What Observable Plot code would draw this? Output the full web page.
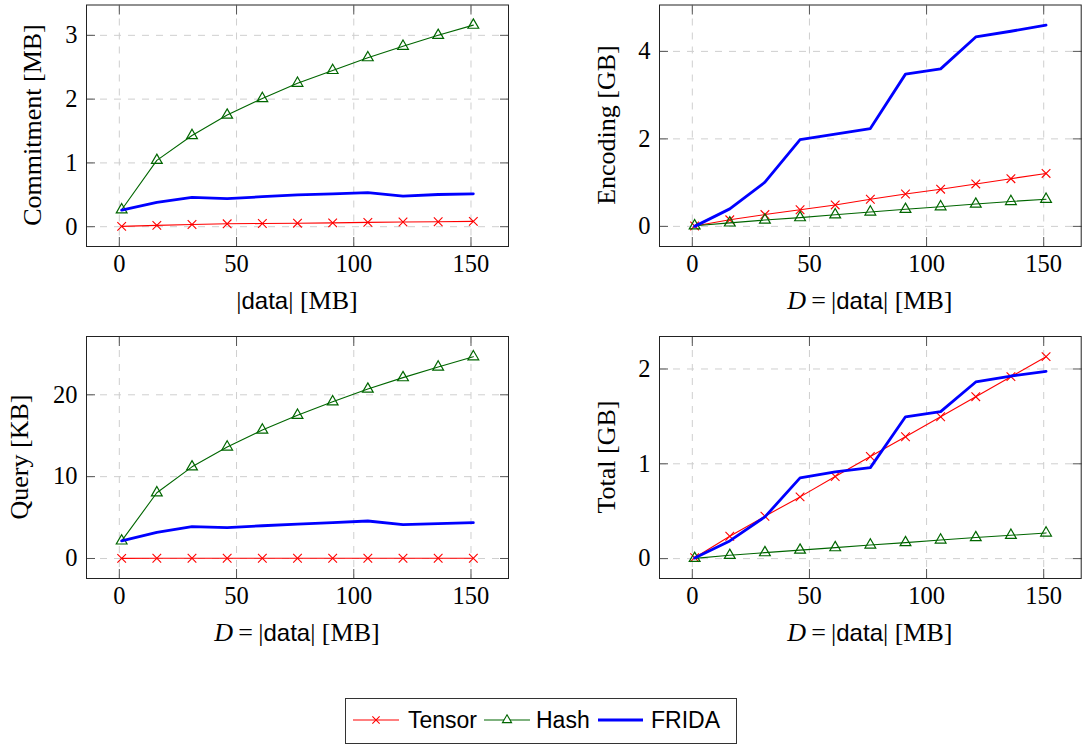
<!DOCTYPE html>
<html><head><meta charset="utf-8">
<script src="https://cdn.jsdelivr.net/npm/d3@7"></script>
<script src="https://cdn.jsdelivr.net/npm/@observablehq/plot@0.6"></script>
<style>
html,body{margin:0;padding:0;background:#fff;}
body{width:1084px;height:745px;position:relative;overflow:hidden;font-family:"Liberation Serif",serif;}
.panel{position:absolute;}
.lab{position:absolute;font-family:"Liberation Serif",serif;font-size:26px;color:#000;white-space:nowrap;line-height:1;}
.sf{font-family:"Liberation Sans",sans-serif;font-size:24px;}
.ylab{transform:translate(-50%,-50%) rotate(-90deg);}
.xlab{transform:translate(-50%,-50%);}
#legend{position:absolute;left:345px;top:698px;width:392px;height:46px;border:1px solid #333;box-sizing:border-box;background:#fff;}
</style></head><body>
<script>
// ---- data ----
const sizes = [1, 16, 31, 46, 61, 76, 91, 106, 121, 136, 151];
const xTicks = [0, 50, 100, 150];

const commitTensor = [0.005, 0.02, 0.035, 0.045, 0.05, 0.055, 0.06, 0.067, 0.073, 0.078, 0.083];
const commitHash   = [0.265, 1.04, 1.43, 1.75, 2.01, 2.25, 2.45, 2.65, 2.83, 3.0, 3.16];
const commitFrida  = [0.26, 0.38, 0.46, 0.44, 0.47, 0.50, 0.515, 0.535, 0.48, 0.505, 0.515];
const commitTicks  = [0, 1, 2, 3];

const encTensor = [0.01, 0.15, 0.27, 0.38, 0.49, 0.62, 0.74, 0.85, 0.97, 1.09, 1.21];
const encHash   = [0.015, 0.08, 0.145, 0.2, 0.265, 0.33, 0.39, 0.45, 0.51, 0.57, 0.62];
const encFrida  = [0.0, 0.40, 1.01, 1.985, 2.11, 2.235, 3.48, 3.6, 4.33, 4.46, 4.6];
const encTicks  = [0, 2, 4];

const queryTensor = [0.02, 0.03, 0.03, 0.03, 0.03, 0.03, 0.03, 0.03, 0.03, 0.03, 0.03];
const queryHash   = [2.15, 8.03, 11.2, 13.63, 15.7, 17.5, 19.15, 20.7, 22.1, 23.4, 24.66];
const queryFrida  = [2.15, 3.2, 3.9, 3.77, 4.0, 4.2, 4.38, 4.58, 4.14, 4.26, 4.38];
const queryTicks  = [0, 10, 20];

const totalTensor = [0.01, 0.236, 0.447, 0.651, 0.866, 1.077, 1.285, 1.496, 1.708, 1.919, 2.13];
const totalHash   = [0.003, 0.035, 0.063, 0.09, 0.116, 0.144, 0.169, 0.197, 0.222, 0.246, 0.271];
const totalFrida  = [0.007, 0.187, 0.44, 0.852, 0.915, 0.96, 1.496, 1.55, 1.863, 1.926, 1.975];
const totalTicks  = [0, 1, 2];

const seriesNames = ["Tensor", "Hash", "FRIDA"];
const seriesColors = ["#ff0000", "#006600", "#0000ff"];

// ---- helpers ----
const rows = s => sizes.map((x, i) => ({x, y: s[i]}));
function enlarge(vals) {
  const lo = d3.min(vals), hi = d3.max(vals), r = hi - lo;
  return [lo - 0.1 * r, hi + 0.1 * r];
}
const xLabPlain = `|<span class="sf">data</span>| [MB]`;
const xLabD = `<i>D</i>&#8201;=&#8201;|<span class="sf">data</span>| [MB]`;

const panels = [
  {left: 0,   top: 0,   w: 540, h: 320, ml: 86, mr: 32, mt: 4.5, mb: 74, series: [commitTensor, commitHash, commitFrida], ticks: commitTicks,
   ylab: "Commitment [MB]", ylx: 33, xlab: xLabPlain},
  {left: 560, top: 0,   w: 524, h: 320, ml: 99, mr: 3.3, mt: 4.5, mb: 74, series: [encTensor, encHash, encFrida], ticks: encTicks,
   ylab: "Encoding [GB]", ylx: 607, xlab: xLabD},
  {left: 0,   top: 320, w: 540, h: 330, ml: 86, mr: 32, mt: 16, mb: 72, series: [queryTensor, queryHash, queryFrida], ticks: queryTicks,
   ylab: "Query [KB]", ylx: 20, xlab: xLabD},
  {left: 560, top: 320, w: 524, h: 330, ml: 99, mr: 3.3, mt: 16, mb: 72, series: [totalTensor, totalHash, totalFrida], ticks: totalTicks,
   ylab: "Total [GB]", ylx: 607, xlab: xLabD}
];

const tickStroke = "#555";
const gridOpts = {stroke: "#cfcfcf", strokeOpacity: 1, strokeWidth: 1, strokeDasharray: "7,7"};

for (const p of panels) {
  const [tensor, hash, frida] = p.series;
  const svg = Plot.plot({
    width: p.w, height: p.h,
    marginLeft: p.ml, marginRight: p.mr, marginTop: p.mt, marginBottom: p.mb,
    x: {domain: enlarge(sizes)},
    y: {domain: enlarge([...tensor, ...hash, ...frida])},
    style: {background: "transparent", fontFamily: "Liberation Serif, serif", fontSize: "24.5px", color: "#000", overflow: "visible"},
    marks: [
      Plot.gridX(xTicks, gridOpts),
      Plot.gridY(p.ticks, gridOpts),
      // inward ticks on all four sides
      Plot.axisX(xTicks, {anchor: "bottom", tickSize: 9, dy: -9, tickFormat: () => "", label: null, stroke: tickStroke}),
      Plot.axisX(xTicks, {anchor: "top", tickSize: 9, dy: 9, tickFormat: () => "", label: null, stroke: tickStroke}),
      Plot.axisY(p.ticks, {anchor: "left", tickSize: 9, dx: 9, tickFormat: () => "", label: null, stroke: tickStroke}),
      Plot.axisY(p.ticks, {anchor: "right", tickSize: 9, dx: -9, tickFormat: () => "", label: null, stroke: tickStroke}),
      // tick labels
      Plot.axisX(xTicks, {anchor: "bottom", tickSize: 0, tickPadding: 8, label: null, fontSize: 24.5, tickFormat: d3.format("d")}),
      Plot.axisY(p.ticks, {anchor: "left", tickSize: 0, tickPadding: 9, label: null, fontSize: 24.5, tickFormat: d3.format("d")}),
      Plot.frame({stroke: "#222", strokeWidth: 1}),
      // series
      Plot.line(rows(tensor), {x: "x", y: "y", stroke: seriesColors[0], strokeWidth: 1.1}),
      Plot.dot(rows(tensor), {x: "x", y: "y", symbol: "times", r: 4, stroke: seriesColors[0], strokeWidth: 1.1}),
      Plot.line(rows(hash), {x: "x", y: "y", stroke: seriesColors[1], strokeWidth: 1.1}),
      Plot.dot(rows(hash), {x: "x", y: "y", symbol: "triangle", r: 4, fill: "none", stroke: seriesColors[1], strokeWidth: 1.2}),
      Plot.line(rows(frida), {x: "x", y: "y", stroke: seriesColors[2], strokeWidth: 2.8})
    ]
  });
  const div = document.createElement("div");
  div.className = "panel";
  div.style.left = p.left + "px";
  div.style.top = p.top + "px";
  div.appendChild(svg);
  document.body.appendChild(div);

  const frameCy = p.top + p.mt + (p.h - p.mt - p.mb) / 2;
  const frameCx = p.left + p.ml + (p.w - p.ml - p.mr) / 2;
  const yl = document.createElement("div");
  yl.className = "lab ylab";
  yl.style.left = p.ylx + "px";
  yl.style.top = frameCy + "px";
  yl.textContent = p.ylab;
  document.body.appendChild(yl);

  const xl = document.createElement("div");
  xl.className = "lab xlab";
  xl.style.left = frameCx + "px";
  xl.style.top = (p.top + p.h - p.mb + 55) + "px";
  xl.innerHTML = p.xlab;
  document.body.appendChild(xl);
}

// ---- legend ----
const legend = document.createElement("div");
legend.id = "legend";
document.body.appendChild(legend);
const lsvg = d3.select(legend).append("svg").attr("width", 390).attr("height", 44)
  .style("position", "absolute").style("left", "0px").style("top", "0px");
const legItems = [
  {x0: 7, x1: 53, tx: 62, sym: d3.symbolTimes},
  {x0: 138, x1: 184, tx: 190, sym: d3.symbolTriangle},
  {x0: 252, x1: 297, tx: 305, sym: null}
];
legItems.forEach((it, i) => {
  const cy = 21;
  lsvg.append("line").attr("x1", it.x0).attr("x2", it.x1).attr("y1", cy).attr("y2", cy)
    .attr("stroke", seriesColors[i]).attr("stroke-width", i === 2 ? 2.8 : 1.1);
  if (it.sym) {
    lsvg.append("path").attr("d", d3.symbol(it.sym, 36)())
      .attr("transform", `translate(${(it.x0 + it.x1) / 2},${cy})`)
      .attr("fill", i === 1 ? "#fff" : "none").attr("stroke", seriesColors[i]).attr("stroke-width", 1.1);
  }
  lsvg.append("text").attr("x", it.tx).attr("y", cy).attr("dy", "0.35em")
    .attr("font-family", "Liberation Sans, sans-serif").attr("font-size", 23).attr("fill", "#000")
    .text(seriesNames[i]);
});
</script>
</body></html>
